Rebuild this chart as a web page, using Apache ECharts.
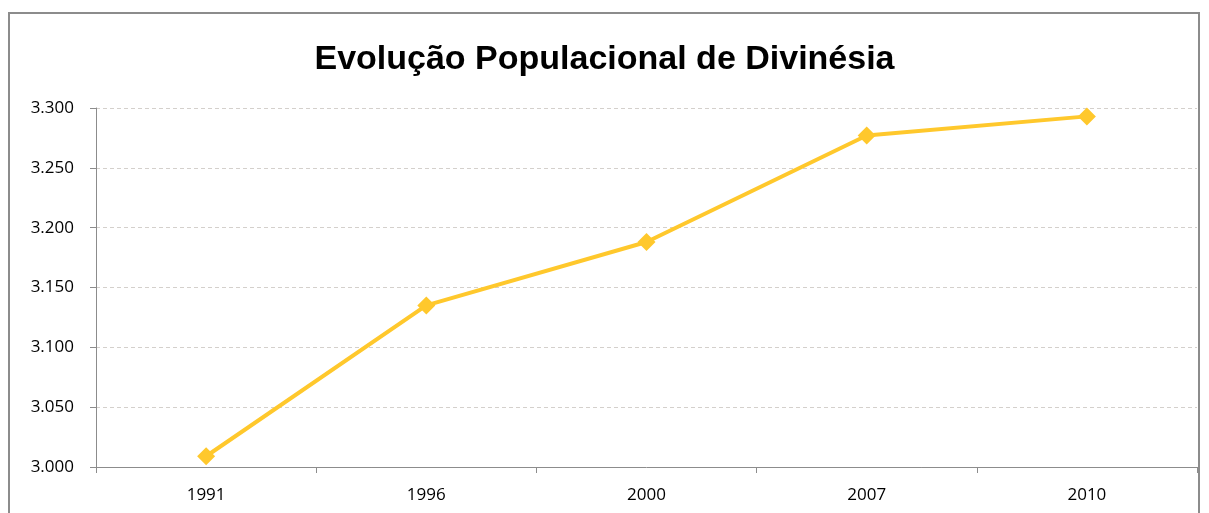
<!DOCTYPE html>
<html>
<head>
<meta charset="utf-8">
<script src="https://cdn.jsdelivr.net/npm/echarts@6/dist/echarts.min.js"></script>
<style>
  html, body { margin: 0; padding: 0; background: #fff; }
  #chart { width: 1209px; height: 513px; }
</style>
</head>
<body>
<div id="chart"></div>
<script>
// dados
var anos = ["1991", "1996", "2000", "2007", "2010"];
var populacao = [3009, 3135, 3188, 3277, 3293];

function milhar(v) {
  return String(v).replace(/\B(?=(\d{3})+(?!\d))/g, ".");
}

var chart = echarts.init(document.getElementById("chart"));

chart.setOption({
  animation: false,
  backgroundColor: "#fff",
  title: {
    text: "Evolução Populacional de Divinésia",
    left: "center",
    top: 38,
    textStyle: {
      fontFamily: "Liberation Sans",
      fontWeight: "bold",
      fontSize: 34,
      color: "#000"
    }
  },
  graphic: [
    {
      type: "rect",
      shape: { x: 9, y: 13, width: 1190, height: 600 },
      style: { fill: "none", stroke: "#8c8c8c", lineWidth: 2 },
      silent: true
    }
  ],
  grid: { left: 96, right: 12, top: 108, bottom: 46 },
  xAxis: {
    type: "category",
    data: anos,
    boundaryGap: true,
    axisLine: { lineStyle: { color: "#8c8c8c", width: 1 } },
    axisTick: { show: true, length: 6, lineStyle: { color: "#8c8c8c" } },
    axisLabel: {
      color: "#000",
      fontFamily: "Open Sans",
      fontSize: 17,
      margin: 20
    }
  },
  yAxis: {
    type: "value",
    min: 3000,
    max: 3300,
    interval: 50,
    axisLine: { show: true, lineStyle: { color: "#8c8c8c", width: 1 } },
    axisTick: { show: true, length: 6, lineStyle: { color: "#8c8c8c" } },
    splitLine: { lineStyle: { color: "#d4d0cc", type: [4, 3] } },
    axisLabel: {
      color: "#000",
      fontFamily: "Open Sans",
      fontSize: 17,
      margin: 22,
      formatter: function (v) { return milhar(v); }
    }
  },
  series: [
    {
      name: "População",
      type: "line",
      data: populacao,
      symbol: "diamond",
      symbolSize: 18,
      lineStyle: { color: "#ffc82c", width: 4 },
      itemStyle: { color: "#ffc82c" }
    }
  ]
});
</script>
</body>
</html>
